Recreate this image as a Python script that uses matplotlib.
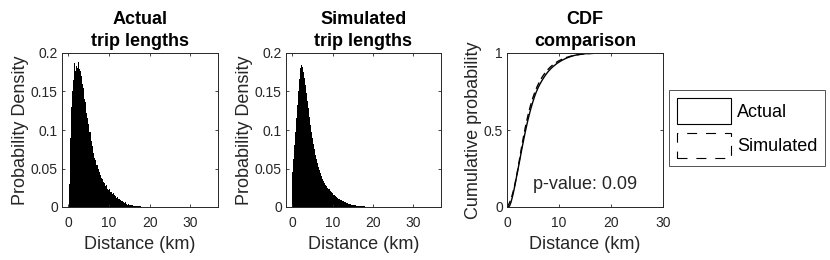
import numpy as np
import matplotlib
matplotlib.use("Agg")
import matplotlib.pyplot as plt
from matplotlib.patches import Patch
from matplotlib.ticker import FixedLocator, FormatStrFormatter

plt.rcParams['font.family'] = ['Liberation Sans', 'DejaVu Sans']

# actual trip lengths: 0.25 km bins starting at 0.25 km (probability density)
actual_start = 0.25
actual_width = 0.25
actual_density = [
    0.030, 0.090, 0.130, 0.150, 0.165, 0.187, 0.176, 0.183, 0.180, 0.188,
    0.179, 0.176, 0.170, 0.160, 0.155, 0.140, 0.136, 0.122, 0.115, 0.108,
    0.098, 0.086, 0.079, 0.070, 0.064, 0.061, 0.055, 0.054, 0.049, 0.046,
    0.042, 0.038, 0.037, 0.032, 0.031, 0.027, 0.029, 0.024, 0.022, 0.023,
    0.020, 0.019, 0.017, 0.018, 0.015, 0.014, 0.012, 0.013, 0.010, 0.011,
    0.009, 0.008, 0.008, 0.006, 0.005, 0.006, 0.004, 0.003, 0.004, 0.003,
    0.002, 0.002, 0.002, 0.0015, 0.001, 0.0012, 0.001, 0.0008, 0.001, 0.0007,
    0.0008, 0.0006, 0.0005, 0.0005, 0.0004, 0.0003, 0.0004, 0.0003, 0.0002, 0.0002,
]

# simulated trip lengths: 0.25 km bins starting at 0 km
sim_start = 0.0
sim_width = 0.25
sim_density = [
    0.045, 0.062, 0.080, 0.098, 0.115, 0.133, 0.150, 0.166, 0.180, 0.185,
    0.182, 0.175, 0.168, 0.158, 0.148, 0.138, 0.128, 0.117, 0.107, 0.098,
    0.090, 0.082, 0.075, 0.068, 0.062, 0.057, 0.052, 0.048, 0.044, 0.040,
    0.037, 0.034, 0.031, 0.029, 0.027, 0.025, 0.023, 0.021, 0.019, 0.018,
    0.016, 0.015, 0.014, 0.013, 0.012, 0.011, 0.010, 0.0095, 0.0088, 0.008,
    0.0073, 0.0067, 0.006, 0.0055, 0.005, 0.0045, 0.004, 0.0036, 0.0032, 0.0029,
    0.0026, 0.0023, 0.002, 0.0018, 0.0016, 0.0014, 0.0012, 0.0011, 0.001, 0.0009,
    0.0008, 0.0007, 0.0006, 0.0005, 0.0005, 0.0004, 0.0004, 0.0003, 0.0003, 0.0002,
]

p_value = 0.09

GRAY = '#262626'
LABEL_FS = 13
TICK_FS = 10


def style_axes(ax):
    for s in ax.spines.values():
        s.set_color(GRAY)
        s.set_linewidth(0.7)
    ax.tick_params(direction='in', length=2, width=0.6, top=True, right=True,
                   colors=GRAY, labelsize=TICK_FS, labelcolor=GRAY)
    ax.tick_params(axis='x', pad=6.5)
    ax.tick_params(axis='y', pad=3)


def draw_hist(ax, start, width, dens, title):
    edges = start + width * np.arange(len(dens) + 1)
    ax.stairs(dens, edges, fill=True, color='k', lw=0)
    ax.set_xlim(-1.5, 36.8)
    ax.set_ylim(0, 0.2)
    ax.xaxis.set_major_locator(FixedLocator([0, 10, 20, 30]))
    ax.yaxis.set_major_locator(FixedLocator([0, 0.05, 0.1, 0.15, 0.2]))
    ax.yaxis.set_major_formatter(FormatStrFormatter('%g'))
    ax.set_xlabel('Distance (km)', fontsize=LABEL_FS, color=GRAY, labelpad=4)
    ax.set_ylabel('Probability Density', fontsize=LABEL_FS, color=GRAY, labelpad=1)
    ax.set_title(title, fontsize=LABEL_FS, fontweight='bold', pad=5, linespacing=1.4)
    style_axes(ax)


def cdf_of(start, width, dens):
    edges = start + width * np.arange(len(dens) + 1)
    mass = np.asarray(dens) * width
    cdf = np.concatenate([[0], np.cumsum(mass) / mass.sum()])
    return edges, cdf


fig = plt.figure(figsize=(8.3, 2.6), dpi=100)
ax1 = fig.add_axes([62 / 830, 53 / 260, 156 / 830, 154 / 260])
ax2 = fig.add_axes([286 / 830, 53 / 260, 155 / 830, 154 / 260])
ax3 = fig.add_axes([507 / 830, 53 / 260, 156 / 830, 154 / 260])

draw_hist(ax1, actual_start, actual_width, actual_density, 'Actual\ntrip lengths')
draw_hist(ax2, sim_start, sim_width, sim_density, 'Simulated\ntrip lengths')

xa, ca = cdf_of(actual_start, actual_width, actual_density)
xs, cs = cdf_of(sim_start, sim_width, sim_density)
ax3.plot(np.concatenate([[0], xa]), np.concatenate([[0], ca]), color='k', lw=1.0)
ax3.plot(xs, cs, color='k', lw=1.0, ls=(0, (5, 3)))
ax3.set_xlim(0, 30)
ax3.set_ylim(0, 1)
ax3.xaxis.set_major_locator(FixedLocator([0, 10, 20, 30]))
ax3.yaxis.set_major_locator(FixedLocator([0, 0.5, 1]))
ax3.yaxis.set_major_formatter(FormatStrFormatter('%g'))
ax3.set_xlabel('Distance (km)', fontsize=LABEL_FS, color=GRAY, labelpad=4)
ax3.set_ylabel('Cumulative probability', fontsize=LABEL_FS, color=GRAY, labelpad=1)
ax3.set_title('CDF\ncomparison', fontsize=LABEL_FS, fontweight='bold', pad=5, linespacing=1.4)
ax3.text(5, 0.12, f'p-value: {p_value:g}', fontsize=LABEL_FS, color=GRAY, va='baseline')
style_axes(ax3)

handles = [Patch(facecolor='white', edgecolor='k', lw=0.8, label='Actual'),
           Patch(facecolor='white', edgecolor='k', lw=0.8, ls=(0, (9, 8)), label='Simulated')]
leg = fig.legend(handles=handles, loc='upper left',
                 bbox_to_anchor=(669 / 830, 1 - 90 / 260), bbox_transform=fig.transFigure,
                 fontsize=LABEL_FS, frameon=True, fancybox=False, borderaxespad=0,
                 handlelength=3.0, handleheight=1.8, handletextpad=0.3,
                 borderpad=0.45, labelspacing=0.5)
leg.get_frame().set_edgecolor(GRAY)
leg.get_frame().set_linewidth(0.7)

fig.savefig('out.png', dpi=100)
